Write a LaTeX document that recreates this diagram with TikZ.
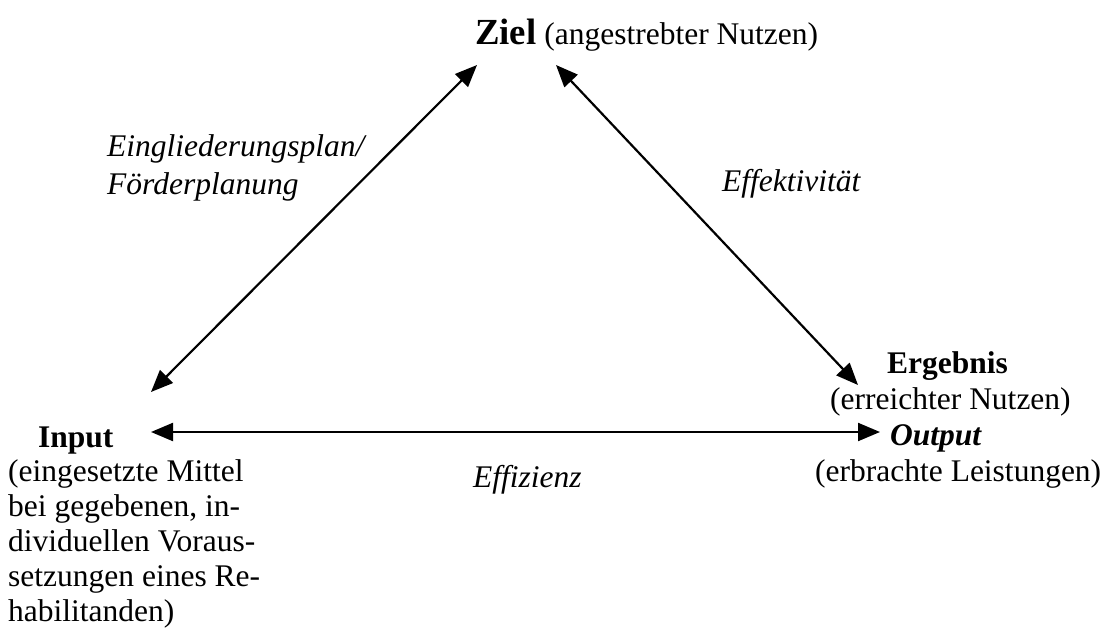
\documentclass[tikz,border=0pt]{standalone}
\usepackage{fontspec}
\setmainfont{Liberation Serif}
\usetikzlibrary{arrows.meta}
\tikzset{
  txt/.style={inner sep=0pt, anchor=base west, font=\fontsize{31.5}{35}\selectfont},
  itxt/.style={txt, font=\fontsize{31.5}{35}\selectfont\itshape},
  conn/.style={line width=2.2pt, {Triangle[length=22pt,width=18pt]}-{Triangle[length=22pt,width=18pt]}}
}
\begin{document}
\begin{tikzpicture}[x=1pt,y=-1pt]
\useasboundingbox (0,0) rectangle (1111,634);
% texts
\node[txt] (ziel) at (475,45) {{\fontsize{36.75}{40}\selectfont\bfseries Ziel} (angestrebter Nutzen)};
\node[itxt] (plan1) at (107,156) {Eingliederungsplan/};
\node[itxt] (plan2) at (107,194) {Förderplanung};
\node[itxt] (eff) at (722,191) {Effektivität};
\node[itxt] (effz) at (473,487) {Effizienz};
\node[txt, font=\fontsize{31.5}{35}\selectfont\bfseries] (erg) at (887,373) {Ergebnis};
\node[txt] (erg2) at (830,409) {(erreichter Nutzen)};
\node[txt, font=\fontsize{31.5}{35}\selectfont\bfseries\itshape] (out) at (890,445) {Output};
\node[txt] (out2) at (815,481) {(erbrachte Leistungen)};
\node[txt, font=\fontsize{31.5}{35}\selectfont\bfseries] (inp) at (38,447) {Input};
\node[txt] (inp1) at (8,481) {(eingesetzte Mittel};
\node[txt] (inp2) at (8,516) {bei gegebenen, in-};
\node[txt] (inp3) at (8,551) {dividuellen Voraus-};
\node[txt] (inp4) at (8,586) {setzungen eines Re-};
\node[txt] (inp5) at (8,621) {habilitanden)};
% connector ends
\coordinate (zl) at (477,65);
\coordinate (zr) at (556,65);
\coordinate (il) at (151,392);
\coordinate (ih) at (151,432);
\coordinate (er) at (858,385);
\coordinate (oh) at (880,432);
\draw[conn] (il) -- (zl);
\draw[conn] (zr) -- (er);
\draw[conn] (ih) -- (oh);
\end{tikzpicture}
\end{document}
